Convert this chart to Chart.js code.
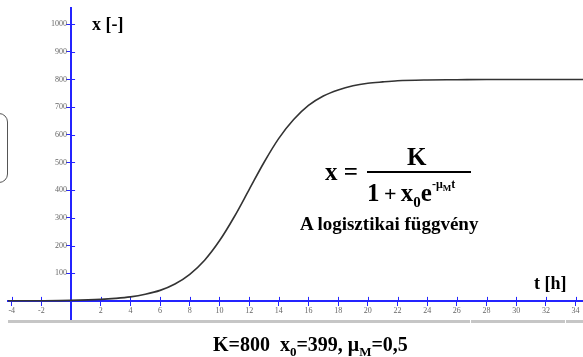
<!DOCTYPE html>
<html lang="hu">
<head>
<meta charset="UTF-8" />
<title>A logisztikai függvény</title>
<script src="https://cdn.jsdelivr.net/npm/chart.js"></script>
<style>
  body { margin: 0; background: #fff; }
  #wrap {
    position: relative; width: 583px; height: 357px; overflow: hidden;
    font-family: "Liberation Serif", "Times New Roman", serif; font-weight: bold; color: #000;
  }
  #chart { position: absolute; left: 0; top: 0; }
  .lbl { position: absolute; white-space: nowrap; line-height: 1; }
  .frame {
    position: absolute; left: -22px; top: 113px; width: 28px; height: 68px;
    border: 1.5px solid #555; border-radius: 9px;
  }
  .rule { position: absolute; top: 320px; height: 3px; background: #c6c6c6; }
  .bar { position: absolute; left: 367px; top: 171px; width: 104px; height: 2px; background: #000; }
  sub, sup { line-height: 0; }
</style>
</head>
<body>
<div id="wrap">
  <canvas id="chart" width="583" height="357"></canvas>
  <div class="frame"></div>
  <div class="rule" style="left:8px;width:462px"></div>
  <div class="rule" style="left:471px;width:94px"></div>
  <div class="rule" style="left:566px;width:17px"></div>

  <div class="lbl" style="left:92px;top:15px;font-size:18px">x [-]</div>
  <div class="lbl" style="left:534px;top:274px;font-size:18px">t [h]</div>

  <div class="lbl" style="left:325px;top:159px;font-size:25px">x =</div>
  <div class="lbl" style="left:407px;top:144px;font-size:25px">K</div>
  <div class="bar"></div>
  <div class="lbl" style="left:367px;top:180px;font-size:25px">1<span style="font-size:22px">&#8201;+&#8201;</span>x<sub style="font-size:15px">0</sub>e<sup style="font-size:12px;position:relative;top:-4px">-μ<sub style="font-size:9px">M</sub>t</sup></div>
  <div class="lbl" style="left:300px;top:214px;font-size:19px">A logisztikai függvény</div>

  <div class="lbl" style="left:213px;top:334px;font-size:20px">K=800&nbsp;&nbsp;x<sub style="font-size:13px">0</sub>=399, μ<sub style="font-size:13px">M</sub>=0,5</div>
</div>
<script>
  // idő (h) és a populáció mérete
  const tValues = [-4.25, -4, -2, 0, 2, 3, 4, 5, 6, 7, 8, 9, 10, 11, 12, 13, 14, 15, 16, 17, 18, 19, 20, 21, 22, 24, 26, 28, 30, 32, 34, 34.5];
  const xValues = [0.3, 0.3, 0.7, 2, 5.4, 9, 14.5, 24, 38, 61, 96, 147, 217, 304, 402, 500, 587, 655, 706, 740, 762, 777, 786, 791, 795, 798, 799, 800, 800, 800, 800, 800];

  const xTicks = [-4, -2, 2, 4, 6, 8, 10, 12, 14, 16, 18, 20, 22, 24, 26, 28, 30, 32, 34];
  const yTicks = [100, 200, 300, 400, 500, 600, 700, 800, 900, 1000];

  const axisBlue = "#2424ff";
  const tickFont = { family: "Liberation Serif", size: 8 };

  // a tengelyvonalak másik oldalára is kerül egy rövid osztásjel
  const crossTicks = {
    id: "crossTicks",
    beforeDatasetsDraw(chart) {
      const { ctx, scales: { x, y } } = chart;
      const y0 = y.getPixelForValue(0);
      const x0 = x.getPixelForValue(0);
      ctx.save();
      ctx.strokeStyle = axisBlue;
      ctx.lineWidth = 1;
      ctx.beginPath();
      xTicks.forEach(v => {
        const px = Math.round(x.getPixelForValue(v)) + 0.5;
        ctx.moveTo(px, y0);
        ctx.lineTo(px, y0 - 4);
      });
      yTicks.forEach(v => {
        const py = Math.round(y.getPixelForValue(v)) + 0.5;
        ctx.moveTo(x0, py);
        ctx.lineTo(x0 + 4, py);
      });
      ctx.stroke();
      ctx.restore();
    }
  };

  new Chart(document.getElementById("chart"), {
    type: "scatter",
    data: {
      datasets: [{
        data: tValues.map((t, i) => ({ x: t, y: xValues[i] })),
        showLine: true,
        borderColor: "#333",
        borderWidth: 1.6,
        pointRadius: 0,
        cubicInterpolationMode: "monotone",
        clip: false
      }]
    },
    options: {
      responsive: false,
      animation: false,
      layout: { padding: { left: 8, top: 8, right: 0, bottom: 37 } },
      plugins: { legend: { display: false }, tooltip: { enabled: false } },
      scales: {
        x: {
          type: "linear",
          position: { y: 0 },
          min: -4.25,
          max: 34.5,
          afterBuildTicks: s => { s.ticks = xTicks.map(v => ({ value: v })); },
          border: { color: axisBlue, width: 2 },
          grid: { drawOnChartArea: false, color: axisBlue, tickLength: 4 },
          ticks: { font: tickFont, color: "#666", padding: 1, maxRotation: 0, autoSkip: false, callback: v => String(v) }
        },
        y: {
          type: "linear",
          position: { x: 0 },
          min: -69,
          max: 1058,
          afterBuildTicks: s => { s.ticks = yTicks.map(v => ({ value: v })); },
          border: { color: axisBlue, width: 2 },
          grid: { drawOnChartArea: false, color: axisBlue, tickLength: 4 },
          // középre tett tengelynél a felirat a vonalig ér, ezért kap egy kis hézagot
          ticks: { font: tickFont, color: "#666", autoSkip: false, callback: v => v + "\u2002" }
        }
      }
    },
    plugins: [crossTicks]
  });
</script>
</body>
</html>
